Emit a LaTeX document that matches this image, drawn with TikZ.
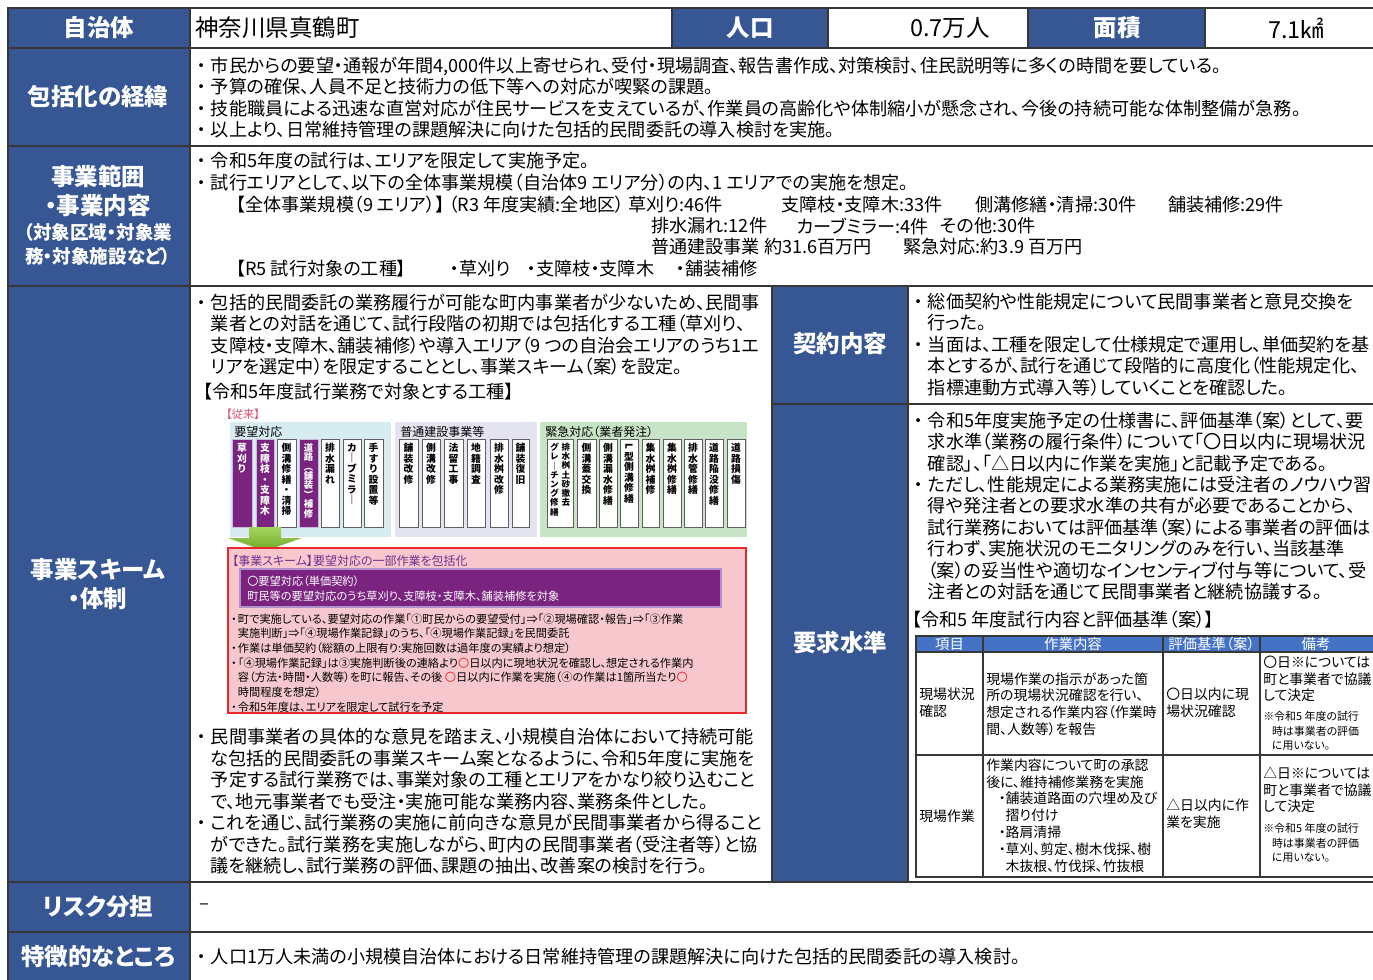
\documentclass[tikz,border=0pt]{standalone}
\usepackage{fontspec}
\setmainfont[RawFeature=+palt]{Noto Sans CJK JP}
\usepackage{graphicx}
\definecolor{lblue}{RGB}{55,87,148}
\definecolor{thblue}{RGB}{68,114,196}
\definecolor{gridc}{RGB}{55,55,55}
\definecolor{cyanbg}{RGB}{214,236,240}
\definecolor{lavbg}{RGB}{228,228,240}
\definecolor{grnbg}{RGB}{200,228,198}
\definecolor{purp}{RGB}{122,36,128}
\definecolor{pinkbg}{RGB}{246,200,206}
\definecolor{redb}{RGB}{232,40,45}
\definecolor{pinkred}{RGB}{214,80,110}
\definecolor{purtxt}{RGB}{112,48,140}
\definecolor{arrg}{RGB}{110,170,40}
\definecolor{arrgl}{RGB}{165,212,95}
\newcommand\fLbl{\fontsize{17.6}{21.75}\selectfont\bfseries}
\newcommand\fLbls{\fontsize{13.9}{18}\selectfont\bfseries}
\newcommand\fHead{\fontsize{17.6}{21}\selectfont}
\newcommand\fBody{\fontsize{13.6}{16.1}\selectfont}
\newcommand\fBodyW{\fontsize{13.6}{16.5}\selectfont}
\newcommand\fTab{\fontsize{10.4}{12.6}\selectfont}
\newcommand\fTabH{\fontsize{10.8}{12}\selectfont}
\newcommand\fNote{\fontsize{8.2}{10.9}\selectfont}
\newcommand\fDia{\fontsize{8.4}{11}\selectfont}
\newcommand\fDiaB{\fontsize{8.4}{11.25}\selectfont}
\newcommand\fDiaT{\fontsize{9}{11}\selectfont}
\newcommand\fVt{\fontsize{7.35}{7.9}\selectfont\bfseries}
\newcommand\fVs{\fontsize{6.4}{6.9}\selectfont\bfseries}
\newcommand\bu{\makebox[0.75em][l]{・}}
\newcommand\ind{\hspace*{0.75em}}
\newcommand\sbu{\makebox[0.6em][l]{・}}
\newcommand\sind{\hspace*{0.6em}}
\newcommand\rc{\textcolor{redb}{〇}}
\newcommand\vcell[5]{%
  \draw[#3] (#1,439) rectangle (#2,527);
  \node[vt#3] (#4) at ({(#1+#2)/2},443) {#5};}
\tikzset{
  cellb/.style={fill=lblue, draw=gridc, line width=1.1pt},
  cellw/.style={fill=white, draw=gridc, line width=1.1pt},
  lbl/.style={text=white, align=center, inner sep=0, font=\fLbl},
  lbls/.style={text=white, align=center, inner sep=0, font=\fLbls},
  txt/.style={anchor=west, align=left, inner sep=0, font=\fBody},
  thh/.style={fill=thblue, draw=gridc, line width=0.8pt},
  tbl/.style={fill=white, draw=gridc, line width=0.8pt},
  thtxt/.style={text=white, inner sep=0, font=\fTabH},
  ttxt/.style={anchor=west, align=left, inner sep=0, font=\fTab},
  tnote/.style={anchor=west, align=left, inner sep=0, font=\fNote},
  dtitle/.style={anchor=west, inner sep=0, font=\fDiaT},
  vw/.style={fill=white, draw={rgb,255:red,95;green,95;blue,95}, line width=0.6pt},
  vp/.style={fill=purp, draw={rgb,255:red,205;green,185;blue,220}, line width=0.6pt},
  vtvw/.style={anchor=north, align=center, inner sep=0, font=\fVt, text=black},
  vtvp/.style={anchor=north, align=center, inner sep=0, font=\fVt, text=white},
}
\begin{document}
\begin{tikzpicture}[x=0.75pt, y=-0.75pt]
\useasboundingbox (0,0) rectangle (1373,980);
% ---------- grid cells ----------
\filldraw[cellb] (8,8) rectangle (190,48);
\filldraw[cellw] (190,8) rectangle (672,48);
\filldraw[cellb] (672,8) rectangle (828,48);
\filldraw[cellw] (828,8) rectangle (1028,48);
\filldraw[cellb] (1028,8) rectangle (1205,48);
\filldraw[cellw] (1205,8) rectangle (1378,48);
\filldraw[cellb] (8,48) rectangle (190,146);
\filldraw[cellw] (190,48) rectangle (1378,146);
\filldraw[cellb] (8,146) rectangle (190,286);
\filldraw[cellw] (190,146) rectangle (1378,286);
\filldraw[cellb] (8,286) rectangle (190,882);
\filldraw[cellw] (190,286) rectangle (772,882);
\filldraw[cellb] (772,286) rectangle (908,404);
\filldraw[cellw] (908,286) rectangle (1378,404);
\filldraw[cellb] (772,404) rectangle (908,882);
\filldraw[cellw] (908,404) rectangle (1378,882);
\filldraw[cellb] (8,882) rectangle (190,932);
\filldraw[cellw] (190,882) rectangle (1378,932);
\filldraw[cellb] (8,932) rectangle (190,986);
\filldraw[cellw] (190,932) rectangle (1378,986);
% ---------- row 1 ----------
\node[lbl] (l1) at (99,28) {自治体};
\node[txt, font=\fHead] (town) at (195,28) {神奈川県真鶴町};
\node[lbl] (l1b) at (750,28) {人口};
\node[inner sep=0, font=\fHead] (pop) at (950,28) {0.7万人};
\node[lbl] (l1c) at (1117,28) {面積};
\node[inner sep=0, font=\fHead] (area) at (1296,28) {7.1㎢};
% ---------- row 2 ----------
\node[lbl] (l2) at (98,97) {包括化の経緯};
\node[txt] (t2) at (197,97.5) {\bu 市民からの要望・通報が年間4,000件以上寄せられ、受付・現場調査、報告書作成、対策検討、住民説明等に多くの時間を要している。\\
\bu 予算の確保、人員不足と技術力の低下等への対応が喫緊の課題。\\
\bu 技能職員による迅速な直営対応が住民サービスを支えているが、作業員の高齢化や体制縮小が懸念され、今後の持続可能な体制整備が急務。\\
\bu 以上より、日常維持管理の課題解決に向けた包括的民間委託の導入検討を実施。};
% ---------- row 3 ----------
\node[lbl] (l3a) at (98,191.5) {事業範囲\\・事業内容};
\node[lbls] (l3b) at (98,244) {（対象区域・対象業\\務・対象施設など）};
\node[txt, font=\fBodyW] (t3a) at (197,172) {\bu 令和5年度の試行は、エリアを限定して実施予定。\\
\bu 試行エリアとして、以下の全体事業規模（自治体9 エリア分）の内、1 エリアでの実施を想定。};
\node[txt] (t3b) at (236,205) {【全体事業規模（9 エリア）】 （R3 年度実績:全地区）};
\node[txt] (t3b2) at (628,205) {草刈り:46件};
\node[txt] (t3c) at (781,205) {支障枝・支障木:33件};
\node[txt] (t3d) at (975,205) {側溝修繕・清掃:30件};
\node[txt] (t3e) at (1168,205) {舗装補修:29件};
\node[txt] (t3f) at (651,226) {排水漏れ:12件};
\node[txt] (t3g) at (797,226) {カーブミラー:4件};
\node[txt] (t3h) at (940,226) {その他:30件};
\node[txt] (t3i) at (651,247) {普通建設事業 約31.6百万円};
\node[txt] (t3j) at (903,247) {緊急対応:約3.9 百万円};
\node[txt] (t3k) at (236,269) {【R5 試行対象の工種】};
\node[txt] (t3l) at (450,269) {・草刈り};
\node[txt] (t3m) at (527,269) {・支障枝・支障木};
\node[txt] (t3n) at (676,269) {・舗装補修};
% ---------- row 4 ----------
\node[lbl] (l4) at (98,584) {事業スキーム\\・体制};
\node[txt] (t4a) at (197,334.5) {\bu 包括的民間委託の業務履行が可能な町内事業者が少ないため、民間事\\
\ind 業者との対話を通じて、試行段階の初期では包括化する工種（草刈り、\\
\ind 支障枝・支障木、舗装補修）や導入エリア（9 つの自治会エリアのうち1エ\\
\ind リアを選定中）を限定することとし、事業スキーム（案）を設定。};
\node[txt] (t4t) at (203,392) {【令和5年度試行業務で対象とする工種】};
\node[txt] (t4z) at (197,801.5) {\bu 民間事業者の具体的な意見を踏まえ、小規模自治体において持続可能\\
\ind な包括的民間委託の事業スキーム案となるように、令和5年度に実施を\\
\ind 予定する試行業務では、事業対象の工種とエリアをかなり絞り込むこと\\
\ind で、地元事業者でも受注・実施可能な業務内容、業務条件とした。\\
\bu これを通じ、試行業務の実施に前向きな意見が民間事業者から得ること\\
\ind ができた。試行業務を実施しながら、町内の民間事業者（受注者等）と協\\
\ind 議を継続し、試行業務の評価、課題の抽出、改善案の検討を行う。};
\node[lbl] (l4b) at (840,344) {契約内容};
\node[lbl] (l4c) at (840,643) {要求水準};
\node[txt] (t4b) at (914,344.5) {\bu 総価契約や性能規定について民間事業者と意見交換を\\
\ind 行った。\\
\bu 当面は、工種を限定して仕様規定で運用し、単価契約を基\\
\ind 本とするが、試行を通じて段階的に高度化（性能規定化、\\
\ind 指標連動方式導入等）していくことを確認した。};
\node[txt] (t4c) at (914,506) {\bu 令和5年度実施予定の仕様書に、評価基準（案）として、要\\
\ind 求水準（業務の履行条件）について「〇日以内に現場状況\\
\ind 確認」、「△日以内に作業を実施」と記載予定である。\\
\bu ただし、性能規定による業務実施には受注者のノウハウ習\\
\ind 得や発注者との要求水準の共有が必要であることから、\\
\ind 試行業務においては評価基準（案）による事業者の評価は\\
\ind 行わず、実施状況のモニタリングのみを行い、当該基準\\
\ind （案）の妥当性や適切なインセンティブ付与等について、受\\
\ind 注者との対話を通じて民間事業者と継続協議する。};
\node[txt] (t4e) at (912,620) {【令和5 年度試行内容と評価基準（案）】};
% ---------- inner table ----------
\filldraw[thh] (916,636) rectangle (983,652);
\filldraw[thh] (983,636) rectangle (1163,652);
\filldraw[thh] (1163,636) rectangle (1260,652);
\filldraw[thh] (1260,636) rectangle (1380,652);
\filldraw[tbl] (916,652) rectangle (983,755);
\filldraw[tbl] (983,652) rectangle (1163,755);
\filldraw[tbl] (1163,652) rectangle (1260,755);
\filldraw[tbl] (1260,652) rectangle (1380,755);
\filldraw[tbl] (916,755) rectangle (983,877);
\filldraw[tbl] (983,755) rectangle (1163,877);
\filldraw[tbl] (1163,755) rectangle (1260,877);
\filldraw[tbl] (1260,755) rectangle (1380,877);
\node[thtxt] (h1) at (949.5,644) {項目};
\node[thtxt] (h2) at (1073,644) {作業内容};
\node[thtxt] (h3) at (1211.5,644) {評価基準（案）};
\node[thtxt] (h4) at (1316,644) {備考};
\node[ttxt] (c11) at (919,703) {現場状況\\確認};
\node[ttxt] (c12) at (986,704) {現場作業の指示があった箇\\所の現場状況確認を行い、\\想定される作業内容（作業時\\間、人数等）を報告};
\node[ttxt] (c13) at (1166,703) {〇日以内に現\\場状況確認};
\node[ttxt] (c14) at (1263,679) {〇日※については\\町と事業者で協議\\して決定};
\node[tnote] (c15) at (1263,731) {※令和5 年度の試行\\\hspace*{0.8em}時は事業者の評価\\\hspace*{0.8em}に用いない。};
\node[ttxt] (c21) at (919,816) {現場作業};
\node[ttxt] (c22) at (986,815.5) {作業内容について町の承認\\後に、維持補修業務を実施\\\makebox[1.4em][r]{・}舗装道路面の穴埋め及び\\\hspace*{1.4em}摺り付け\\\makebox[1.4em][r]{・}路肩清掃\\\makebox[1.4em][r]{・}草刈、剪定、樹木伐採、樹\\\hspace*{1.4em}木抜根、竹伐採、竹抜根};
\node[ttxt] (c23) at (1166,814) {△日以内に作\\業を実施};
\node[ttxt] (c24) at (1263,790) {△日※については\\町と事業者で協議\\して決定};
\node[tnote] (c25) at (1263,843) {※令和5 年度の試行\\\hspace*{0.8em}時は事業者の評価\\\hspace*{0.8em}に用いない。};
% ---------- inner diagram ----------
\node[anchor=west, inner sep=0, font=\fDiaB, text=pinkred] (jurai) at (226,414) {【従来】};
\fill[cyanbg] (230,422) rectangle (391,537);
\fill[lavbg] (395,422) rectangle (537,537);
\fill[grnbg] (540,422) rectangle (747,537);
\node[dtitle] (g1) at (234,432) {要望対応};
\node[dtitle] (g2) at (400,432) {普通建設事業等};
\node[dtitle] (g3) at (545,432) {緊急対応（業者発注）};
\vcell{232}{252}{vp}{v1}{草\\刈\\り}
\vcell{256}{274}{vp}{v2}{支\\障\\枝\\・\\支\\障\\木}
\vcell{277}{296}{vw}{v3}{側\\溝\\修\\繕\\・\\清\\掃}
\draw[vp] (299,439) rectangle (318,527);
\node[vtvp, font=\fontsize{7.0}{7.05}\selectfont\bfseries] (v4) at (308.5,443) {道\\路\\︵\\舗\\装\\︶\\補\\修};
\vcell{321}{339}{vw}{v5}{排\\水\\漏\\れ}
\vcell{343}{361}{vw}{v6}{カ\\｜\\ブ\\ミ\\ラ\\｜}
\vcell{364}{383}{vw}{v7}{手\\す\\り\\設\\置\\等}
\vcell{399}{418}{vw}{v8}{舗\\装\\改\\修}
\vcell{422}{440}{vw}{v9}{側\\溝\\改\\修}
\vcell{444}{463}{vw}{v10}{法\\留\\工\\事}
\vcell{467}{485}{vw}{v11}{地\\籍\\調\\査}
\vcell{490}{508}{vw}{v12}{排\\水\\桝\\改\\修}
\vcell{512}{529}{vw}{v13}{舗\\装\\復\\旧}
\draw[vw] (547,439) rectangle (573,527);
\node[vtvw, font=\fVs] (v14a) at (566,443) {排\\水\\桝\\土\\砂\\撤\\去};
\node[vtvw, font=\fVs] (v14b) at (554.5,443) {グ\\レ\\｜\\チ\\ン\\グ\\修\\繕};
\vcell{577}{596}{vw}{v15}{側\\溝\\蓋\\交\\換}
\vcell{599}{617}{vw}{v16}{側\\溝\\漏\\水\\修\\繕}
\vcell{620}{638}{vw}{v17}{\rotatebox[origin=c]{-90}{L}\\型\\側\\溝\\修\\繕}
\vcell{642}{659}{vw}{v18}{集\\水\\桝\\補\\修}
\vcell{663}{681}{vw}{v19}{集\\水\\桝\\修\\繕}
\vcell{684}{702}{vw}{v20}{排\\水\\管\\修\\繕}
\vcell{705}{723}{vw}{v21}{道\\路\\陥\\没\\修\\繕}
\vcell{727}{745}{vw}{v22}{道\\路\\損\\傷}
% green block arrow
\shade[top color=arrgl, bottom color=arrg] (249,527) -- (281,527) -- (281,538) -- (302,538) -- (265,551) -- (228,538) -- (249,538) -- cycle;
% pink scheme box
\filldraw[fill=pinkbg, draw=redb, line width=1.2pt] (228,548) rectangle (746,713);
\node[anchor=west, inner sep=0, font=\fDiaT, text=purtxt] (sch) at (232,561) {【事業スキーム】要望対応の一部作業を包括化};
\filldraw[fill=purp, draw={rgb,255:red,175;green,145;blue,205}, line width=0.9pt] (240,569) rectangle (721,607);
\node[anchor=west, align=left, inner sep=0, font=\fDiaB, text=white] (ban) at (247,588.5) {〇要望対応（単価契約）\\町民等の要望対応のうち草刈り、支障枝・支障木、舗装補修を対象};
\node[anchor=west, align=left, inner sep=0, font=\fDia] (sb) at (231,663) {\sbu 町で実施している、要望対応の作業「①町民からの要望受付」⇒「②現場確認・報告」⇒「③作業\\
\sind 実施判断」⇒「④現場作業記録」のうち、「④現場作業記録」を民間委託\\
\sbu 作業は単価契約（総額の上限有り:実施回数は過年度の実績より想定）\\
\sbu 「④現場作業記録」は③実施判断後の連絡より\rc 日以内に現地状況を確認し、想定される作業内\\
\sind 容（方法・時間・人数等）を町に報告、その後 \rc 日以内に作業を実施（④の作業は1箇所当たり\rc\\
\sind 時間程度を想定）\\
\sbu 令和5年度は、エリアを限定して試行を予定};
% ---------- rows 5, 6 ----------
\node[lbl] (l5) at (98,907) {リスク分担};
\node[txt] (t5) at (199,907) {–};
\node[lbl] (l6) at (98,957) {特徴的なところ};
\node[txt] (t6) at (197,957) {\bu 人口1万人未満の小規模自治体における日常維持管理の課題解決に向けた包括的民間委託の導入検討。};
\end{tikzpicture}
\end{document}
